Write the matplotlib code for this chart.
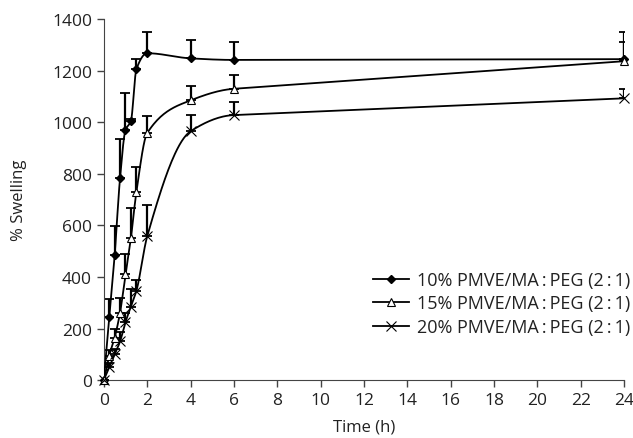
import numpy as np
import matplotlib
matplotlib.use("Agg")
import matplotlib.pyplot as plt

# -------------
# Data
# -------------
time_h = [0, 0.25, 0.5, 0.75, 1, 1.25, 1.5, 2, 4, 6, 24]

sw_10 = [0, 245, 485, 785, 970, 1005, 1205, 1268, 1248, 1242, 1245]
sw_10_top = [0, 315, 598, 935, 1115, 1012, 1247, 1352, 1320, 1313, 1352]

sw_15 = [0, 95, 165, 262, 410, 552, 728, 958, 1085, 1130, 1237]
sw_15_top = [0, 115, 200, 317, 488, 668, 825, 1025, 1140, 1182, 1310]

sw_20 = [0, 50, 100, 150, 225, 285, 345, 557, 965, 1028, 1093]
sw_20_top = [0, 65, 120, 185, 260, 355, 390, 678, 1027, 1080, 1130]

labels = ["10% PMVE/MA\u2009:\u2009PEG (2\u2009:\u20091)",
          "15% PMVE/MA\u2009:\u2009PEG (2\u2009:\u20091)",
          "20% PMVE/MA\u2009:\u2009PEG (2\u2009:\u20091)"]


def smooth(x, y, n=40):
    # monotone cubic (Fritsch-Carlson) just for drawing the curve,
    # the long last segment (6 -> 24 h) stays straight
    x = np.asarray(x, float)
    y = np.asarray(y, float)
    h = np.diff(x)
    d = np.diff(y) / h
    m = np.zeros_like(y)
    m[0] = d[0]
    for i in range(1, len(x) - 1):
        if d[i - 1] * d[i] <= 0:
            m[i] = 0
        else:
            w1 = 2 * h[i] + h[i - 1]
            w2 = h[i] + 2 * h[i - 1]
            m[i] = (w1 + w2) / (w1 / d[i - 1] + w2 / d[i])
    m[-2] = d[-1]
    m[-1] = d[-1]
    xs, ys = [], []
    for i in range(len(x) - 1):
        t = np.linspace(0, 1, n)
        h00 = 2 * t**3 - 3 * t**2 + 1
        h10 = t**3 - 2 * t**2 + t
        h01 = -2 * t**3 + 3 * t**2
        h11 = t**3 - t**2
        xs.append(x[i] + t * h[i])
        ys.append(h00 * y[i] + h10 * h[i] * m[i] + h01 * y[i + 1] + h11 * h[i] * m[i + 1])
    return np.concatenate(xs), np.concatenate(ys)


plt.rcParams['font.family'] = ['Open Sans', 'DejaVu Sans']
plt.rcParams['font.size'] = 12
plt.rcParams['text.color'] = '#222222'
plt.rcParams['axes.labelcolor'] = '#222222'

fig = plt.figure(figsize=(6.33, 4.39), dpi=100)
ax = fig.add_axes([0.164, 0.132, 0.822, 0.822])

series = [
    (sw_10, sw_10_top, dict(marker="D", markersize=4.5, markerfacecolor="black", markeredgecolor="black")),
    (sw_15, sw_15_top, dict(marker="^", markersize=6, markerfacecolor="white", markeredgecolor="black", markeredgewidth=0.8)),
    (sw_20, sw_20_top, dict(marker="x", markersize=6.5, markeredgecolor="black", markeredgewidth=0.8)),
]

handles = []
for (vals, tops, mk), lab in zip(series, labels):
    vals = np.array(vals, float)
    up = np.array(tops, float) - vals
    ax.errorbar(time_h, vals, yerr=[np.zeros_like(up), up], fmt="none",
                ecolor="black", elinewidth=1.6, capsize=3.5, capthick=1.3, zorder=2)
    xs, ys = smooth(time_h, vals)
    ax.plot(xs, ys, color="black", lw=1.3, zorder=3)
    ax.plot(time_h, vals, linestyle="none", zorder=4, clip_on=False, **mk)
    h, = ax.plot([], [], color="black", lw=1.3, **mk)
    handles.append(h)

ax.set_xlim(0, 24)
ax.set_ylim(0, 1400)
ax.set_xticks(range(0, 25, 2))
ax.set_yticks(range(0, 1401, 200))
ax.spines['top'].set_visible(False)
ax.spines['right'].set_visible(False)
ax.spines['left'].set_color('#444444')
ax.spines['bottom'].set_color('#444444')
ax.tick_params(direction='out', length=5, width=1, color='#444444',
               labelsize=12.5, labelcolor='#222222')
ax.set_xlabel("Time (h)", fontsize=12, labelpad=8)
ax.set_ylabel("% Swelling", fontsize=12, labelpad=18)

leg = fig.legend(handles, labels, loc="upper right",
                 bbox_to_anchor=(630 / 633, 1 - 272 / 439),
                 frameon=False, fontsize=13, handlelength=2.0, handletextpad=0.45,
                 labelspacing=0.3, borderaxespad=0, borderpad=0)

fig.savefig("out.png", dpi=100)
